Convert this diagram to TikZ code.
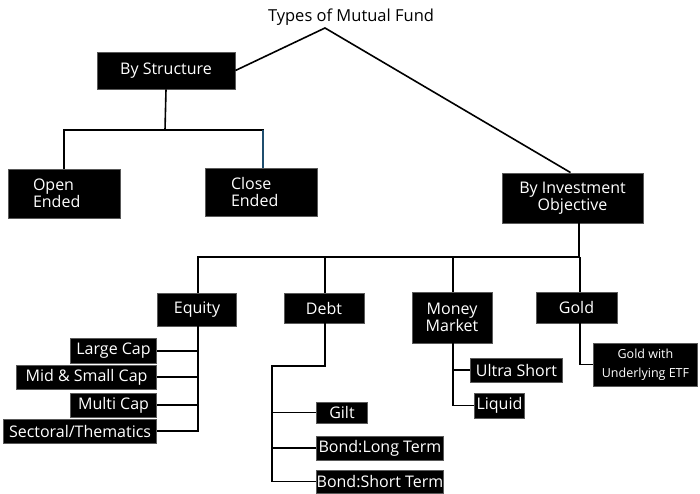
\documentclass[tikz,border=0pt]{standalone}
\usepackage{fontspec}
\setmainfont{Open Sans}
\begin{document}
\begin{tikzpicture}[x=1pt,y=-1pt,
  conn/.style={line width=1.6pt, black},
  box/.style={fill=black, draw=black!65, line width=0.9pt, text=white, inner sep=0pt,
    font=\fontsize{16}{17}\selectfont, align=center},
  leafbox/.style={box},
  blueline/.style={line width=1.6pt, draw={rgb,255:red,31;green,78;blue,110}}
]
\useasboundingbox (0,0) rectangle (700,494);
% title
\node[font=\fontsize{16.5}{17}\selectfont, inner sep=0pt] (title) at (351,17) {Types of Mutual Fund};
\coordinate (top) at (325,28);
% level 1
\node[box, minimum width=138pt, minimum height=37pt] (bs) at (166,70.5) {By Structure};
\node[box, minimum width=141pt, minimum height=50pt] (inv) at (572.5,198) {By Investment\\Objective};
% level 2 structure
\node[box, minimum width=112pt, minimum height=49pt, text width=62pt, align=left] (oe) at (64,193.5) {Open\\Ended};
\node[box, minimum width=112pt, minimum height=48pt, text width=60pt, align=left] (ce) at (261,192) {Close\\Ended};
% level 2 objective
\node[box, minimum width=79pt, minimum height=33pt] (eq) at (197,309.5) {Equity};
\node[box, minimum width=80pt, minimum height=30pt] (debt) at (324,308) {Debt};
\node[box, minimum width=80pt, minimum height=51pt] (mm) at (452,317.5) {Money\\Market};
\node[box, minimum width=81pt, minimum height=31pt] (gold) at (576.5,307.5) {Gold};
% equity leaves
\node[leafbox, minimum width=86pt, minimum height=25pt, anchor=east] (lc) at (157,351) {Large Cap};
\node[leafbox, minimum width=140pt, minimum height=24pt, anchor=east] (ms) at (157,377) {Mid \& Small Cap};
\node[leafbox, minimum width=86pt, minimum height=24pt, anchor=east] (mc) at (157,405) {Multi Cap};
\node[leafbox, minimum width=153pt, minimum height=24pt, anchor=east] (st) at (157,431) {Sectoral/Thematics};
% debt leaves
\node[leafbox, minimum width=51pt, minimum height=21pt, anchor=west] (gilt) at (316,412.5) {Gilt};
\node[leafbox, minimum width=127pt, minimum height=24pt, anchor=west] (blt) at (316,448) {Bond:Long Term};
\node[leafbox, minimum width=127pt, minimum height=23pt, anchor=west] (bst) at (316,481.5) {Bond:Short Term};
% money market leaves
\node[leafbox, minimum width=92pt, minimum height=24pt, anchor=west] (us) at (470,370) {Ultra Short};
\node[leafbox, minimum width=50pt, minimum height=25pt, anchor=west] (liq) at (474,405.5) {Liquid};
% gold leaf
\node[leafbox, minimum width=104pt, minimum height=43pt, anchor=west,
  font=\fontsize{12.5}{19}\selectfont] (etf) at (593,364.5) {Gold with\\Underlying ETF};
% helper coordinates
\coordinate (ceN) at ([xshift=2pt]ce.north);
\coordinate (invS) at ([xshift=6.5pt]inv.south);
\coordinate (eqN) at ([xshift=1pt]eq.north);
\coordinate (eqS) at ([xshift=1pt]eq.south);
\coordinate (debtN) at ([xshift=1pt]debt.north);
\coordinate (debtS) at ([xshift=1pt]debt.south);
\coordinate (mmN) at ([xshift=1pt]mm.north);
\coordinate (mmS) at ([xshift=1pt]mm.south);
\coordinate (goldN) at ([xshift=3.5pt]gold.north);
\coordinate (goldS) at ([xshift=3.5pt]gold.south);
% connectors from root
\draw[conn, line join=miter] (bs.east) -- (top) -- ([xshift=-2pt]inv.north);
% by structure
\coordinate (sj) at (165,130);
\draw[conn] (bs.south) -- (sj);
\draw[conn] (oe.north) |- (sj) -| (ceN);
\draw[blueline] (ceN) -- (ceN |- sj);
% by investment objective
\coordinate (bus) at (579,257);
\draw[conn] (invS) -- (bus);
\draw[conn] (eqN) |- (bus);
\draw[conn] (debtN) -- (debtN |- bus);
\draw[conn] (mmN) -- (mmN |- bus);
\draw[conn] (goldN) -- (goldN |- bus);
% equity
\draw[conn] (eqS) |- (st.east);
\draw[conn] (lc.east) -- (lc.east -| eqS);
\draw[conn] (ms.east) -- (ms.east -| eqS);
\draw[conn] (mc.east) -- (mc.east -| eqS);
% debt
\coordinate (dj) at (272,366);
\draw[conn] (debtS) |- (dj) |- (bst.west);
\draw[conn] (gilt.west) -- (gilt.west -| dj);
\draw[conn] (blt.west) -- (blt.west -| dj);
% money market
\draw[conn] (mmS) |- (liq.west);
\draw[conn] (us.west) -- (us.west -| mmS);
% gold
\draw[conn] (goldS) |- (etf.west);
\end{tikzpicture}
\end{document}
